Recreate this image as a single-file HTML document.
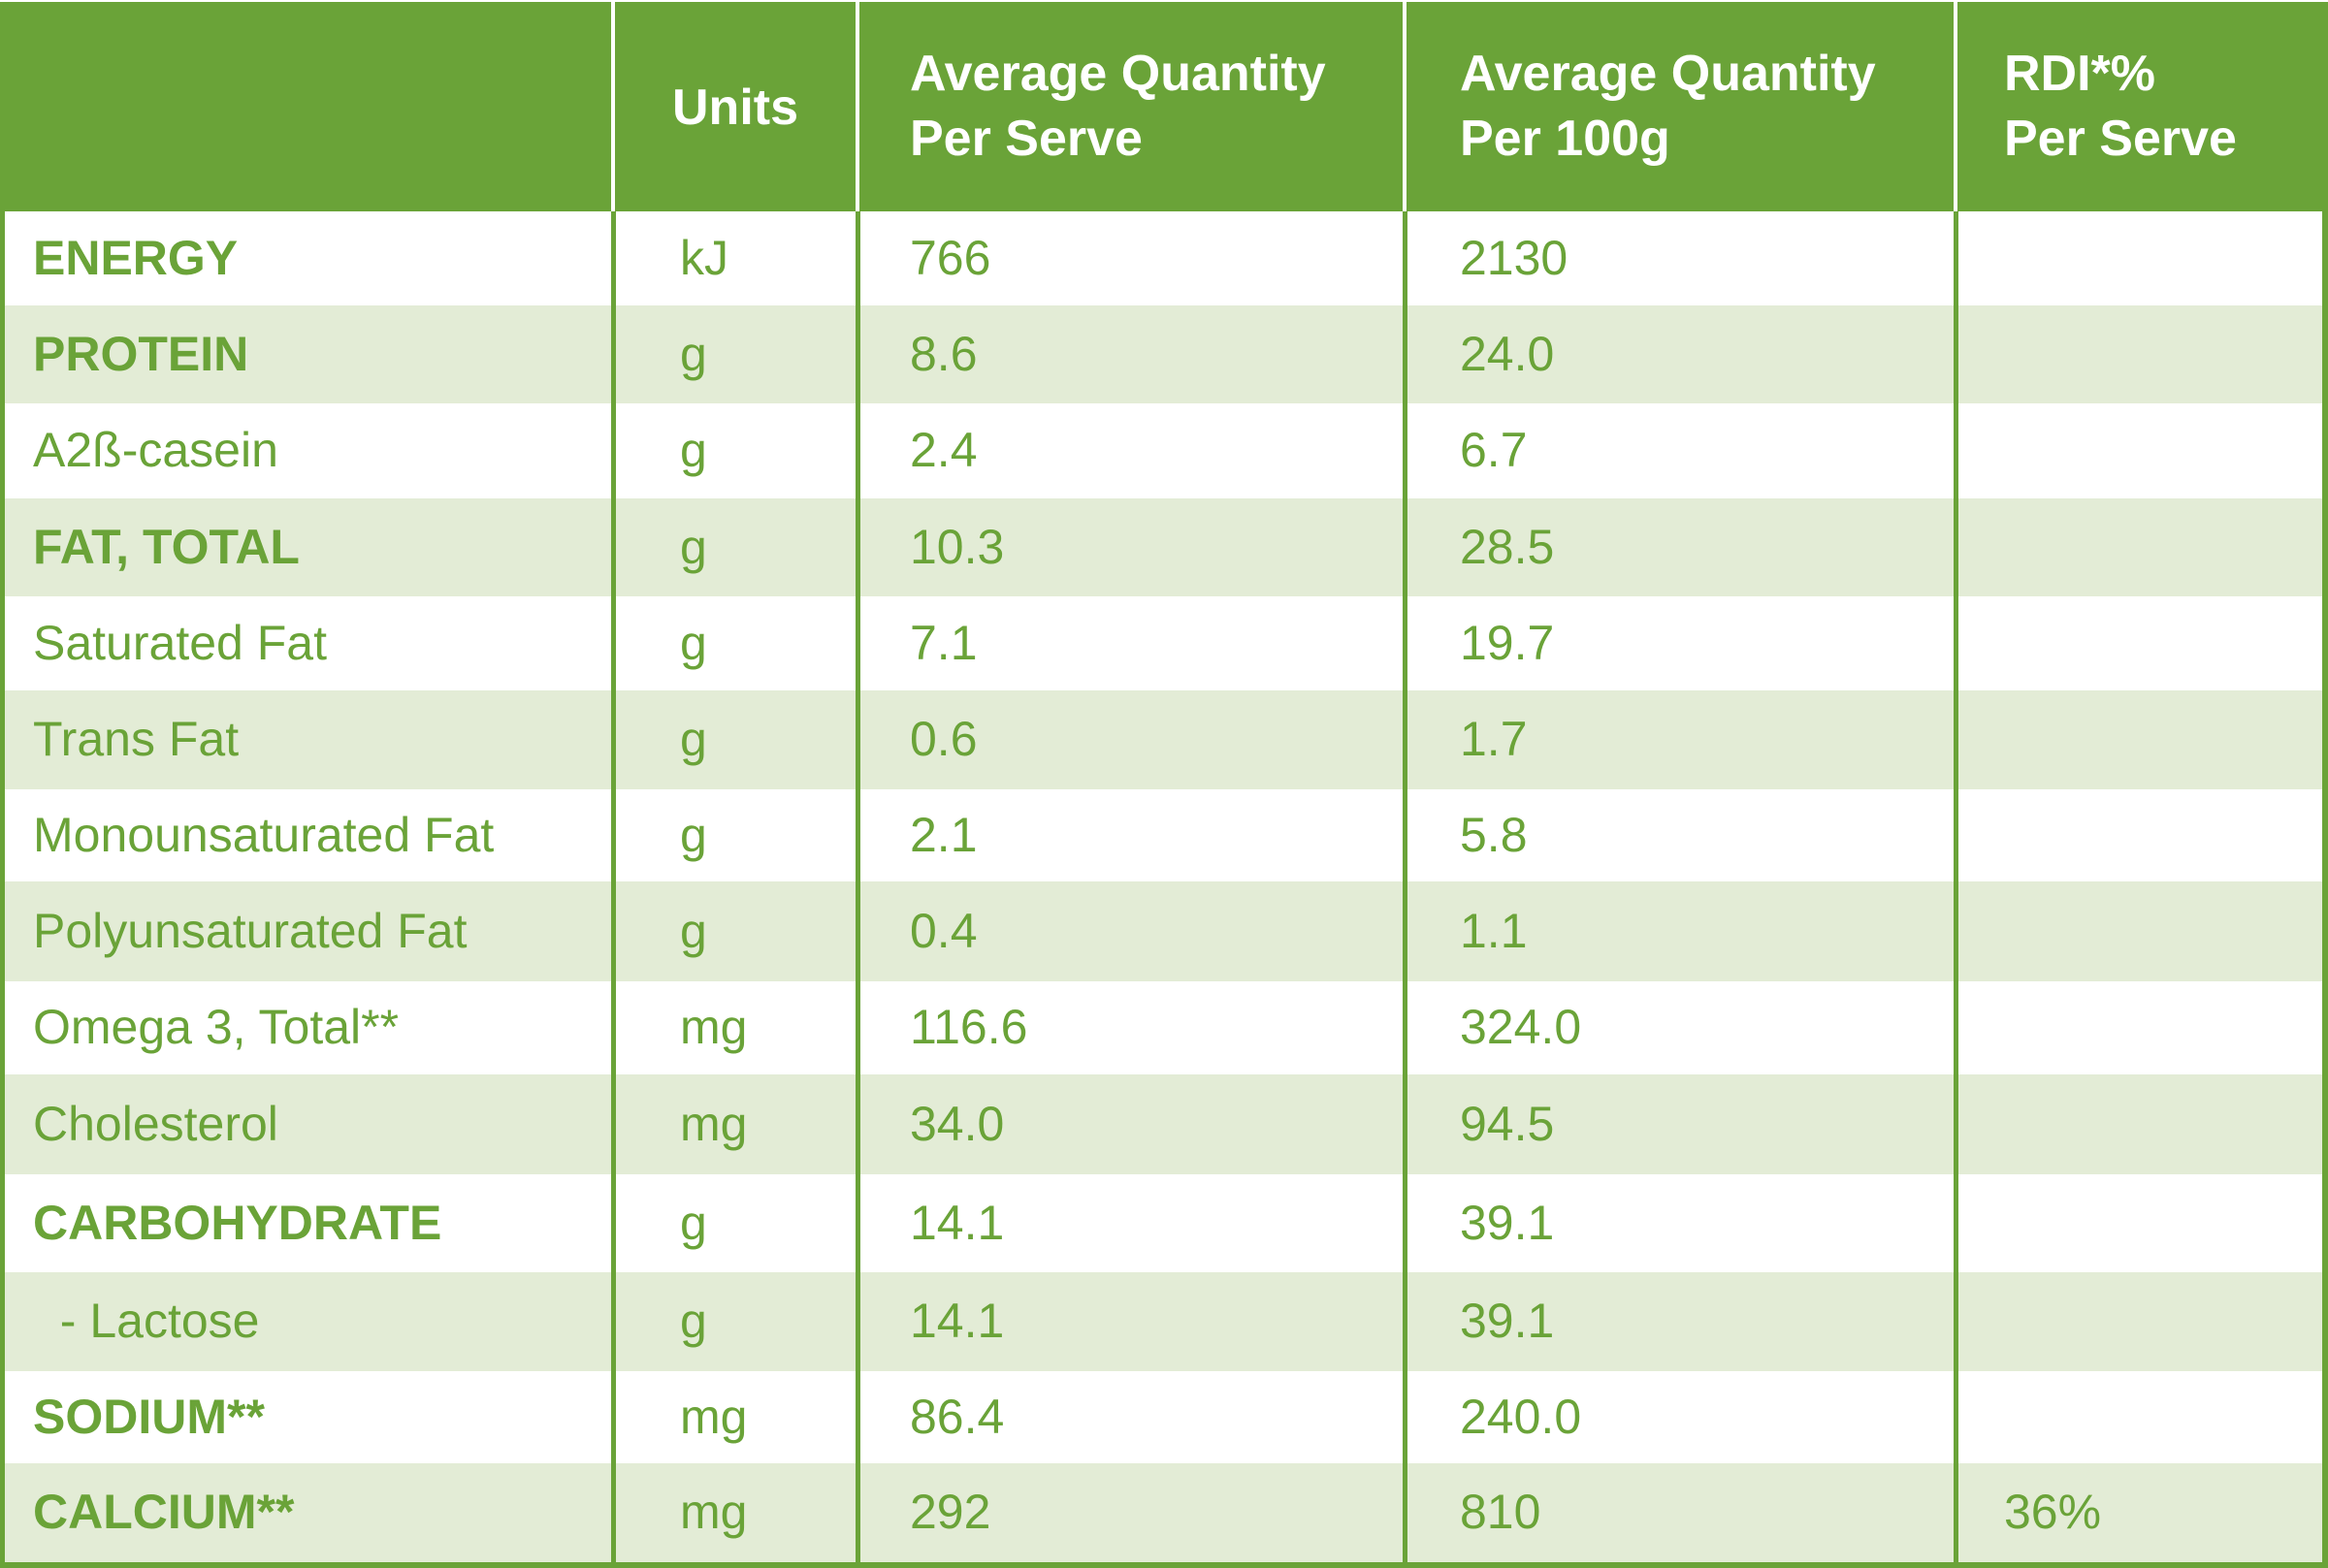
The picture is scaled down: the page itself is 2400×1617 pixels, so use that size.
<!DOCTYPE html>
<html><head><meta charset="utf-8"><style>
body{margin:0;width:2400px;height:1617px;position:relative;background:#fff;font-family:"Liberation Sans",sans-serif;overflow:hidden}
div{position:absolute;box-sizing:border-box}
.h{color:#fff;font-weight:bold;font-size:52px;line-height:67px}
.t{color:#6aa338;font-size:50px;white-space:nowrap}
.b{font-weight:bold}
</style></head><body>
<div style="left:0;top:2px;width:2400px;height:216px;background:#6aa338"></div>
<div id="body" style="left:0;top:0;width:2400px;height:1617px"></div>
<div class="h" style="left:693px;top:78px">Units</div>
<div class="h" style="left:938px;top:43px">Average Quantity<br>Per Serve</div>
<div class="h" style="left:1505px;top:43px">Average Quantity<br>Per 100g</div>
<div class="h" style="left:2066px;top:43px">RDI*%<br>Per Serve</div>
<script>
const rowNames=["ENERGY","PROTEIN","A2ß-casein","FAT, TOTAL","Saturated Fat","Trans Fat","Monounsaturated Fat","Polyunsaturated Fat","Omega 3, Total**","Cholesterol","CARBOHYDRATE","  - Lactose","SODIUM**","CALCIUM**"];
const boldRows=[1,1,0,1,0,0,0,0,0,0,1,0,1,1];
const units=["kJ","g","g","g","g","g","g","g","mg","mg","g","g","mg","mg"];
const perServe=["766","8.6","2.4","10.3","7.1","0.6","2.1","0.4","116.6","34.0","14.1","14.1","86.4","292"];
const per100=["2130","24.0","6.7","28.5","19.7","1.7","5.8","1.1","324.0","94.5","39.1","39.1","240.0","810"];
const rdi=["","","","","","","","","","","","","","36%"];
const bounds=[218,315,416,514,615,712,814,909,1012,1108,1211,1312,1414,1509,1611];
const body=document.getElementById('body');
function mk(style,cls,text){const d=document.createElement('div');d.style.cssText=style;if(cls)d.className=cls;if(text!==undefined)d.textContent=text;body.appendChild(d);return d;}
for(let i=0;i<rowNames.length;i++){
  const y=bounds[i],h=bounds[i+1]-y;
  const r=mk(`left:0;top:${y}px;width:2400px;height:${h}px;background:${i%2?'#e3ecd6':'#fff'}`);
  
  
  const ty=y+h/2-30;
  const n=mk(`left:34px;top:${ty}px;white-space:pre`,'t'+(boldRows[i]?' b':''),rowNames[i]);
  
  
  const u=mk(`left:701px;top:${ty}px`,'t',units[i]);
  
  
  const a=mk(`left:938px;top:${ty}px`,'t',perServe[i]);
  
  
  const c=mk(`left:1505px;top:${ty}px`,'t',per100[i]);
  
  
  const e=mk(`left:2066px;top:${ty}px`,'t',rdi[i]);
  
  
}
const cols=[632,884,1448,2016];
cols.forEach(x=>{
  const w=mk(`left:${x-2}px;top:0;width:4px;height:218px;background:#fff`);
  
  
  const g=mk(`left:${x-2}px;top:218px;width:5px;height:1395px;background:#6aa338`);
  
  
});
const l=mk('left:0;top:218px;width:5px;height:1399px;background:#6aa338');


const rb=mk('left:2394px;top:218px;width:6px;height:1399px;background:#6aa338');


const bb=mk('left:0;top:1611px;width:2400px;height:6px;background:#6aa338');


</script>
</body></html>
